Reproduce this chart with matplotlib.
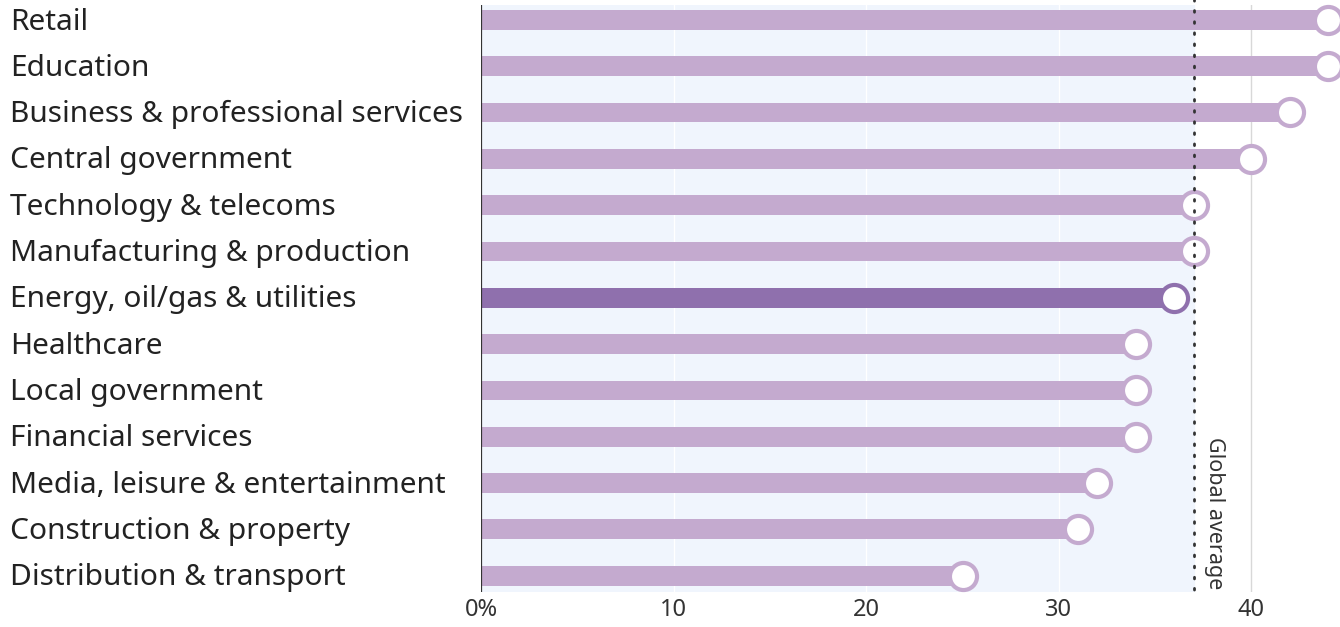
import matplotlib
matplotlib.use("Agg")
import matplotlib.pyplot as plt

categories = ["Retail", "Education", "Business & professional services",
              "Central government", "Technology & telecoms",
              "Manufacturing & production", "Energy, oil/gas & utilities",
              "Healthcare", "Local government", "Financial services",
              "Media, leisure & entertainment", "Construction & property",
              "Distribution & transport"]
values = [44, 44, 42, 40, 37, 37, 36, 34, 34, 34, 32, 31, 25]
highlight = "Energy, oil/gas & utilities"
global_average = 37
xticks = [0, 10, 20, 30, 40]
xticklabels = ["0%", "10", "20", "30", "40"]

W, H = 1340, 627
fig = plt.figure(figsize=(W / 100, H / 100), dpi=100)
ax = fig.add_axes([481 / W, 1 - 592 / H, 1 - 481 / W, (592 - 5) / H])
ax.set_xlim(0, 44.6)
ax.set_ylim(12.35, -0.32)
ax.axis("off")

font = "Noto Sans"
bar_c = "#c4aacf"
hi_c = "#8f70ad"

# background up to global average
ax.axvspan(0, global_average, color="#f0f5fd", zorder=0)
for t in xticks[1:]:
    col = "white" if t < global_average else "#d8d8d8"
    ax.axvline(t, color=col, lw=1, zorder=0.5)

for i, (c, v) in enumerate(zip(categories, values)):
    col = hi_c if c == highlight else bar_c
    ax.barh(i, v, height=0.43, color=col, zorder=2)
    ax.plot([v], [i], marker="o", markersize=19.5, markerfacecolor="white",
            markeredgecolor=col, markeredgewidth=3, zorder=3, clip_on=False)
    fig.text(10 / W, 1 - (22 + i * 46.33) / H, c, ha="left", va="center",
             fontsize=21.5, family=font, color="#222222")

ax.axvline(0, color="#333333", lw=1.6, zorder=4)
ax.plot([global_average, global_average], [-0.45, 12.35], color="#333333",
        lw=2, linestyle=(0, (0.6, 3.4)), dash_capstyle="round", zorder=4,
        clip_on=False)
ax.text(global_average + 0.55, 12.3, "Global average", rotation=-90,
        ha="left", va="bottom", fontsize=15.5, family=font, color="#333333")

for t, lab in zip(xticks, xticklabels):
    x = ax.transData.transform((t, 0))[0] / W
    fig.text(x, 1 - 610 / H, lab, ha="center", va="center", fontsize=17,
             family=font, color="#333333")

fig.savefig("out.png", dpi=100)
